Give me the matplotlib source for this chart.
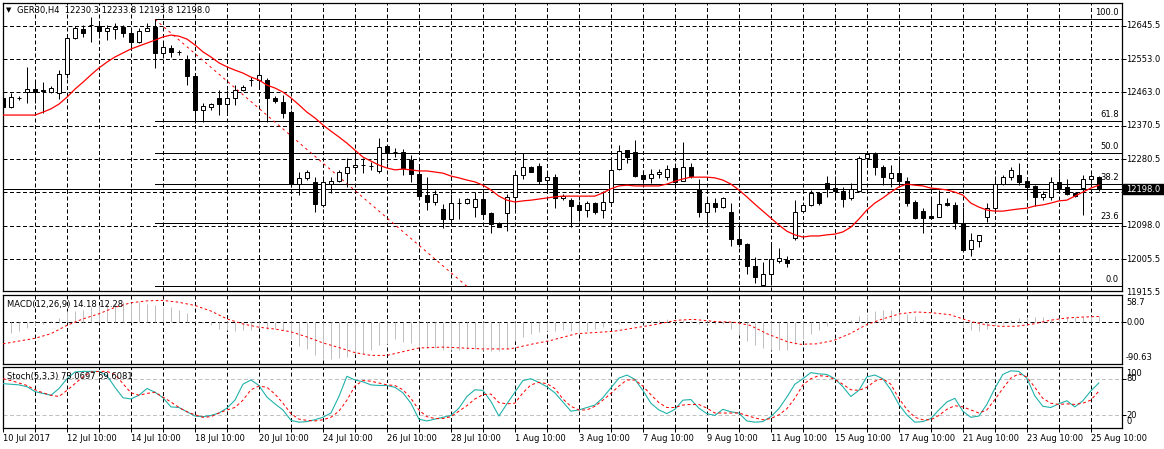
import numpy as np
import matplotlib
matplotlib.use("Agg")
import matplotlib.pyplot as plt
import matplotlib.transforms as mtransforms
from matplotlib.patches import Rectangle

plt.rcParams['font.family'] = ['DejaVu Sans']
plt.rcParams['font.size'] = 6

# GER30 H4 candles, 10 Jul - 25 Aug 2017
opens = [12448, 12423, 12447, 12464, 12472, 12470, 12464, 12461, 12513, 12612,
         12637, 12648, 12645, 12631, 12637, 12642, 12626, 12601, 12631, 12642,
         12571, 12585, 12574, 12554, 12508, 12415, 12423, 12448, 12431, 12448,
         12470, 12497, 12497, 12497, 12448, 12437, 12409, 12212, 12229, 12218,
         12155, 12212, 12220, 12242, 12259, 12264, 12261, 12248, 12316, 12300,
         12300, 12278, 12240, 12182, 12163, 12144, 12116, 12160, 12160, 12149,
         12171, 12133, 12105, 12133, 12177, 12237, 12259, 12261, 12223, 12231,
         12174, 12168, 12155, 12141, 12160, 12141, 12163, 12253, 12305, 12300,
         12237, 12229, 12240, 12231, 12256, 12220, 12259, 12198, 12136, 12160,
         12149, 12136, 12062, 12048, 11988, 11935, 11966, 12001, 12004, 12064,
         12138, 12155, 12188, 12215, 12201, 12193, 12174, 12193, 12283, 12294,
         12259, 12229, 12242, 12220, 12163, 12138, 12125, 12122, 12160, 12155,
         12105, 12034, 12056, 12122, 12146, 12212, 12231, 12237, 12220, 12207,
         12177, 12177, 12218, 12204, 12188, 12201, 12226, 12230.3]
highs = [12456, 12461, 12453, 12533, 12497, 12491, 12481, 12524, 12615, 12645,
         12648, 12669, 12653, 12648, 12653, 12648, 12639, 12639, 12653, 12663,
         12601, 12593, 12579, 12565, 12508, 12434, 12434, 12470, 12470, 12483,
         12483, 12505, 12571, 12502, 12453, 12456, 12415, 12245, 12251, 12231,
         12234, 12231, 12251, 12283, 12297, 12283, 12272, 12338, 12316, 12311,
         12308, 12292, 12264, 12231, 12196, 12157, 12185, 12174, 12174, 12190,
         12190, 12136, 12108, 12185, 12245, 12297, 12261, 12270, 12242, 12240,
         12185, 12174, 12166, 12166, 12163, 12193, 12286, 12319, 12305, 12333,
         12251, 12253, 12253, 12264, 12270, 12327, 12270, 12226, 12174, 12174,
         12177, 12160, 12100, 12051, 12012, 11999, 12051, 12037, 12015, 12168,
         12163, 12196, 12188, 12234, 12234, 12204, 12215, 12289, 12297, 12300,
         12264, 12264, 12289, 12231, 12168, 12146, 12174, 12196, 12174, 12163,
         12149, 12078, 12072, 12160, 12234, 12237, 12259, 12270, 12226, 12209,
         12193, 12231, 12256, 12226, 12190, 12237, 12240, 12233.8]
lows = [12415, 12420, 12442, 12434, 12434, 12407, 12461, 12445, 12502, 12609,
        12615, 12601, 12612, 12607, 12609, 12615, 12579, 12598, 12631, 12530,
        12557, 12560, 12565, 12483, 12379, 12382, 12415, 12401, 12407, 12428,
        12467, 12481, 12481, 12382, 12434, 12393, 12204, 12182, 12223, 12136,
        12149, 12188, 12218, 12204, 12242, 12242, 12251, 12242, 12270, 12286,
        12237, 12218, 12177, 12141, 12155, 12092, 12097, 12116, 12157, 12122,
        12122, 12078, 12094, 12084, 12144, 12226, 12245, 12212, 12196, 12146,
        12168, 12094, 12111, 12122, 12130, 12119, 12160, 12251, 12270, 12231,
        12215, 12215, 12229, 12223, 12201, 12220, 12229, 12122, 12094, 12136,
        12146, 12042, 12040, 11966, 11941, 11932, 11936, 11996, 11985, 12059,
        12136, 12152, 12155, 12177, 12177, 12149, 12168, 12190, 12259, 12237,
        12209, 12204, 12207, 12152, 12116, 12078, 12119, 12122, 12152, 12089,
        12031, 12015, 12040, 12108, 12133, 12209, 12223, 12209, 12174, 12152,
        12168, 12168, 12198, 12182, 12177, 12127, 12209, 12193.8]
closes = [12423, 12450, 12448, 12472, 12464, 12467, 12475, 12513, 12612, 12639,
          12626, 12647, 12631, 12639, 12642, 12626, 12601, 12631, 12639, 12571,
          12587, 12574, 12574, 12508, 12415, 12426, 12431, 12431, 12448, 12470,
          12478, 12497, 12511, 12448, 12439, 12407, 12212, 12229, 12245, 12157,
          12218, 12220, 12245, 12259, 12264, 12264, 12261, 12314, 12300, 12300,
          12256, 12240, 12179, 12163, 12185, 12116, 12160, 12160, 12171, 12171,
          12130, 12103, 12094, 12177, 12237, 12259, 12245, 12220, 12231, 12174,
          12179, 12152, 12141, 12160, 12136, 12163, 12251, 12303, 12286, 12234,
          12226, 12240, 12245, 12253, 12218, 12259, 12234, 12136, 12160, 12149,
          12174, 12062, 12048, 11988, 11958, 11966, 12007, 12010, 11996, 12136,
          12155, 12188, 12160, 12198, 12193, 12171, 12198, 12283, 12294, 12259,
          12231, 12242, 12220, 12160, 12119, 12119, 12119, 12157, 12155, 12108,
          12031, 12059, 12072, 12146, 12212, 12231, 12251, 12218, 12204, 12177,
          12185, 12218, 12201, 12185, 12179, 12226, 12234, 12198.0]

# red moving average on the price chart
ma = [12401, 12401, 12401, 12401, 12401, 12409, 12418, 12431, 12450, 12472,
      12491, 12511, 12530, 12546, 12560, 12571, 12582, 12590, 12598, 12606,
      12615, 12620, 12617, 12609, 12593, 12574, 12560, 12544, 12533, 12524,
      12516, 12505, 12497, 12483, 12475, 12464, 12448, 12429, 12409, 12393,
      12374, 12357, 12341, 12324, 12305, 12286, 12275, 12264, 12256, 12251,
      12253, 12251, 12248, 12248, 12245, 12242, 12234, 12229, 12223, 12218,
      12209, 12196, 12179, 12168, 12163, 12166, 12168, 12171, 12174, 12177,
      12179, 12179, 12179, 12179, 12179, 12188, 12199, 12207, 12209, 12207,
      12207, 12207, 12207, 12212, 12220, 12226, 12231, 12231, 12231, 12229,
      12223, 12212, 12196, 12177, 12157, 12138, 12119, 12100, 12083, 12073,
      12067, 12070, 12070, 12073, 12075, 12081, 12094, 12116, 12141, 12160,
      12174, 12190, 12204, 12212, 12209, 12207, 12201, 12199, 12196, 12190,
      12182, 12160, 12149, 12141, 12138, 12138, 12141, 12144, 12146, 12152,
      12155, 12160, 12166, 12168, 12179, 12190, 12201, 12209]

# MACD(12,26,9)
macd_main = [-29, -24, -20, -13, -6, -3, 2, 10, 25, 25,
             27, 32, 36, 40, 42, 43, 42, 43, 40, 36,
             32, 32, 27, 20, 3, -2, -7, -14, -16, -20,
             -16, -18, -13, -14, -14, -18, -36, -52, -58, -72,
             -79, -79, -78, -76, -68, -68, -61, -50, -47, -36,
             -43, -45, -52, -55, -56, -60, -60, -60, -58, -58,
             -60, -62, -63, -58, -40, -32, -25, -22, -20, -20,
             -18, -20, -22, -20, -15, -10, -5, -3, 0, -3,
             2, 4, 5, 6, 4, 5, 3, -3, -5, -5,
             -3, -15, -28, -40, -50, -57, -61, -61, -60, -48,
             -36, -25, -18, -9, -3, -1, 4, 14, 18, 25,
             27, 27, 22, 18, 14, 5, 1, 0, -1, -2,
             -11, -18, -20, -14, -7, -4, 5, 9, 11, 11,
             11, 7, 9, 11, 11, 11, 14, 14.18]
macd_sig_x = [0, 4, 6, 8, 10, 12, 14, 16, 18, 20, 22, 24, 26, 28, 30, 32, 34, 36, 38, 40,
              42, 44, 46, 48, 50, 52, 55, 60, 63.4, 66.3, 68.4, 71.7, 76.3, 78.8, 81.3, 84.2,
              86.3, 89.2, 91.3, 93.4, 95.5, 98, 99.6, 101.7, 103.8, 105.9, 107.9, 110, 112.1,
              114.2, 116.3, 118.4, 120, 121.3, 123, 124.6, 126.7, 128.8, 130.9, 133, 135, 137]
macd_sig_y = [-47, -35, -25, -7, 7, 18, 32, 42, 46, 47, 43, 36, 24, 7, -4, -11, -15, -21, -32, -45,
              -55, -66, -72, -72, -64, -56, -54, -58, -58, -47, -40, -25, -20, -13, -6, 4,
              6, 1, 0, -7, -25, -42, -48, -47, -40, -25, -6, 7, 18,
              22, 20, 16, 7, 0, -6, -9, -9, -4, 4, 9, 11, 12.28]

# Stochastic(5,3,3)
stoch_main = [72, 71, 70, 67, 59, 56, 53, 64, 80, 91, 92, 92, 92, 85, 66, 49, 47, 53, 64, 58,
              49, 34, 33, 26, 19, 18, 20, 24, 32, 45, 71, 78, 69, 50, 39, 29, 12, 9, 10, 13,
              17, 24, 51, 84, 78, 75, 70, 69, 69, 66,
              57, 40, 14, 11, 14, 17, 20, 32, 51, 62, 61, 43, 19, 39, 58, 77, 80, 74, 67, 57,
              42, 27, 29, 33, 37, 49, 65, 81, 86, 79, 61, 40, 29, 23, 30, 45, 46, 32, 23, 20,
              30, 26, 24, 11, 9, 10, 18, 31, 50, 71,
              80, 90, 88, 87, 80, 67, 51, 61, 83, 86, 80, 62, 38, 21, 9, 10, 15, 29, 42, 48,
              27, 17, 19, 38, 64, 87, 93, 92, 81, 52, 35, 33, 39, 44, 34, 44, 60, 73.0697]
stoch_sig = [80, 77, 73, 69, 62, 57, 53, 51, 61, 72, 83, 91, 92, 92, 87, 72, 57, 53, 56, 58,
             50, 42, 33, 26, 21, 17, 18, 24, 29, 33, 45, 62, 68, 66, 55, 40, 23, 14, 12, 11,
             13, 17, 27, 45, 68, 77, 76, 73, 70, 69,
             62, 48, 29, 18, 15, 15, 18, 27, 36, 47, 54, 55, 41, 39, 40, 57, 70, 74, 72, 64,
             47, 35, 29, 29, 35, 45, 56, 68, 78, 78, 68, 54, 41, 33, 33, 37, 38, 38, 32, 24,
             24, 24, 24, 20, 16, 13, 15, 21, 31, 48,
             70, 80, 85, 84, 79, 71, 62, 61, 66, 76, 80, 71, 48, 30, 17, 13, 13, 20, 30, 36,
             34, 29, 24, 29, 46, 64, 81, 88, 83, 66, 48, 40, 38, 39, 38, 40, 45, 59.6081]

# Fibonacci retracement anchors (bar index, price)
fib_start, fib_high = 19, 12663
fib_end, fib_low = 58, 11932
fib_levels = [0.0, 23.6, 38.2, 50.0, 61.8, 100.0]
last_price = 12198.0

price_grid = [11915.5, 12006.75, 12098.0, 12189.25, 12280.5, 12371.75, 12463.0, 12554.25, 12645.5]
price_labels = ['11915.5', '12005.5', '12098.0', '', '12280.5', '12370.5', '12463.0', '12553.0', '12645.5']

xtick_pos = [0, 8, 16, 24, 32, 40, 48, 56, 64, 72, 80, 88, 96, 104, 112, 120, 128, 136]
xtick_text = ['10 Jul 2017', '12 Jul 10:00', '14 Jul 10:00', '18 Jul 10:00', '20 Jul 10:00',
              '24 Jul 10:00', '26 Jul 10:00', '28 Jul 10:00', '1 Aug 10:00', '3 Aug 10:00',
              '7 Aug 10:00', '9 Aug 10:00', '11 Aug 10:00', '15 Aug 10:00', '17 Aug 10:00',
              '21 Aug 10:00', '23 Aug 10:00', '25 Aug 10:00']

W, H = 1164, 449
fig = plt.figure(figsize=(W / 100, H / 100), dpi=100)
fig.patch.set_facecolor('white')


def rect(left, top, right, bottom):
    return [left / W, 1 - bottom / H, (right - left) / W, (bottom - top) / H]


ax = fig.add_axes(rect(2.5, 3, 1122, 290.7))
ax_macd = fig.add_axes(rect(2.5, 295, 1122, 364))
ax_sto = fig.add_axes(rect(2.5, 366.5, 1122, 427.7))

lw = 0.72
grid_ls = (0, (4, 2.5))
x = np.arange(len(opens))

for a in (ax, ax_macd, ax_sto):
    a.set_xlim(-0.06, 139.9)
    a.set_facecolor('white')
    for s in a.spines.values():
        s.set_linewidth(0.9)
        s.set_color('black')
    for gx in range(4, 140, 4):
        a.axvline(gx, color='black', lw=lw, ls=grid_ls, zorder=0.5)
    a.tick_params(axis='y', left=False, labelleft=False, right=True, labelright=False,
                  length=3, width=lw)
    a.tick_params(axis='x', bottom=False, labelbottom=False)


def rlabel(a, yval, txt, axes_y=False):
    tr = mtransforms.blended_transform_factory(a.transAxes, a.transAxes if axes_y else a.transData)
    a.text(1.0036, yval, txt, transform=tr, ha='left', va='center', fontsize=6)


# ---- price chart ----
ymin, ymax = 11920.1, 12707.8
for v in price_grid:
    if ymin < v < ymax:
        ax.axhline(v, color='black', lw=lw, ls=grid_ls, zorder=0.5)
ax.set_yticks([v for v in price_grid if ymin < v < ymax])
ax.set_ylim(ymin, ymax)
for v, t in zip(price_grid, price_labels):
    if t:
        rlabel(ax, v, t)

o = np.array(opens)
c = np.array(closes)
up = c >= o
ax.vlines(x, lows, highs, color='black', lw=lw, zorder=3)
ax.bar(x, np.abs(c - o), bottom=np.minimum(o, c), width=0.5,
       color=np.where(up, 'white', 'black'), edgecolor='black', linewidth=lw, zorder=4)
ax.plot(x, ma, color='red', lw=0.9, zorder=5)

# fibonacci
fib_tr = mtransforms.blended_transform_factory(ax.transAxes, ax.transData)
for lev in fib_levels:
    p = fib_low + lev / 100 * (fib_high - fib_low)
    ax.plot([fib_start, 139.9], [p, p], color='black', lw=lw, zorder=2)
    ax.annotate(f'{lev:.1f}', xy=(0.9973, p), xycoords=fib_tr, xytext=(0, 4.7),
                textcoords='offset points', ha='right', va='center', fontsize=6)
ax.plot([fib_start, fib_end], [fib_high, fib_low], color='red', lw=lw, ls=(0, (2.5, 3.5)), zorder=2)

# current price line and its black tag on the scale
ax.axhline(last_price, color='black', lw=lw, zorder=2)
fig.add_artist(Rectangle((1122.7 / W, 1 - 194 / H), (W - 1122.7) / W, 9.7 / H,
                         transform=fig.transFigure, color='black', zorder=4))
ymid = 1 - 189.2 / H
fig.text(1126 / W, ymid, f'{last_price:.1f}', color='white', fontsize=6,
         ha='left', va='center', zorder=6)

fig.text(6.3 / W, 1 - 10.5 / H, '\u25bc', fontsize=5, va='center', ha='left')
fig.text(17.3 / W, 1 - 10.7 / H, 'GER30,H4  12230.3 12233.8 12193.8 12198.0',
         va='center', ha='left', fontsize=6)

# ---- MACD ----
ax_macd.set_ylim(-90.63, 58.7)
ax_macd.axhline(0, color='black', lw=lw, ls=grid_ls, zorder=0.5)
ax_macd.vlines(x, 0, macd_main, color='#c0c0c0', lw=lw, zorder=2)
ax_macd.plot(macd_sig_x, macd_sig_y, color='red', lw=lw, ls=(0, (2.5, 2.5)), zorder=3)
ax_macd.set_yticks([0])
rlabel(ax_macd, 0.888, '58.7', axes_y=True)
rlabel(ax_macd, 0, '0.00')
rlabel(ax_macd, 0.091, '-90.63', axes_y=True)
fig.text(7.3 / W, 1 - 304 / H, 'MACD(12,26,9) 14.18 12.28', va='center', ha='left', fontsize=6)

# ---- Stochastic ----
ax_sto.set_ylim(0, 100)
for lvl in (20, 80):
    ax_sto.axhline(lvl, color='#c0c0c0', lw=lw, ls=(0, (4, 2.5)), zorder=0.6)
ax_sto.plot(x, stoch_main, color='#20b2aa', lw=0.8, zorder=3)
ax_sto.plot(x, stoch_sig, color='red', lw=lw, ls=(0, (3, 2.5)), zorder=3)
ax_sto.set_yticks([20, 80])
rlabel(ax_sto, 0.88, '100', axes_y=True)
rlabel(ax_sto, 80, '80')
rlabel(ax_sto, 20, '20')
rlabel(ax_sto, 0.097, '0', axes_y=True)
fig.text(7.3 / W, 1 - 376 / H, 'Stoch(5,3,3) 73.0697 59.6081', va='center', ha='left', fontsize=6)

ax_sto.set_xticks(np.arange(0, 140, 4))
ax_sto.set_xticklabels([xtick_text[xtick_pos.index(t)] if t in xtick_pos else ''
                        for t in range(0, 140, 4)], ha='left')
ax_sto.tick_params(axis='x', bottom=True, labelbottom=True, length=3, width=lw, pad=1.5,
                   labelsize=6)
ax_sto.set_xlim(-0.06, 139.9)

fig.savefig('out.png', dpi=100)
